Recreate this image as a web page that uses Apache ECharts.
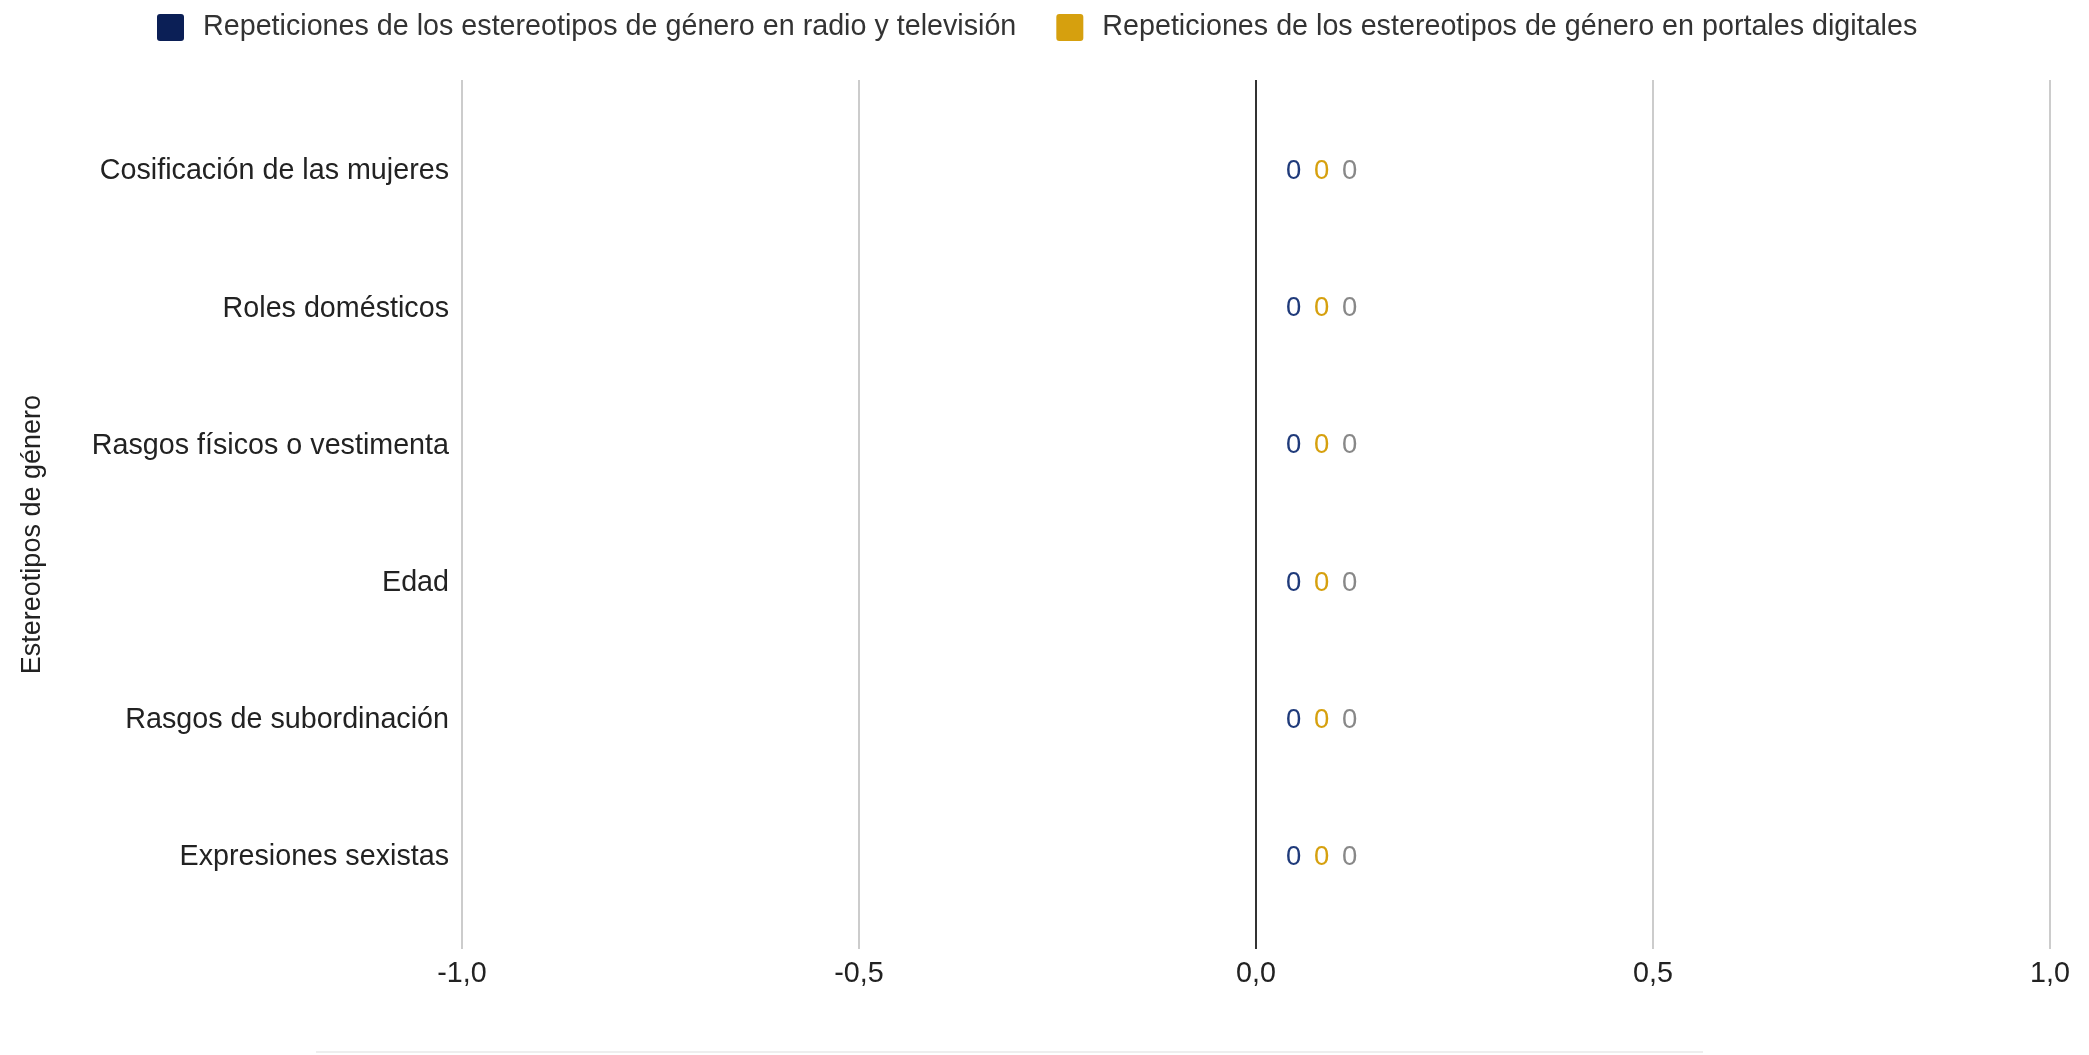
<!DOCTYPE html>
<html>
<head>
<meta charset="utf-8">
<script src="https://cdn.jsdelivr.net/npm/echarts@6/dist/echarts.min.js"></script>
<style>html,body{margin:0;padding:0;background:#fff;}#c{width:2089px;height:1055px;}</style>
</head>
<body>
<div id="c"></div>
<script>
var categories = ["Cosificación de las mujeres","Roles domésticos","Rasgos físicos o vestimenta","Edad","Rasgos de subordinación","Expresiones sexistas"];
var radioTv = [0,0,0,0,0,0];
var portales = [0,0,0,0,0,0];
var total = [0,0,0,0,0,0];
var seriesNames = ["Repeticiones de los estereotipos de género en radio y televisión","Repeticiones de los estereotipos de género en portales digitales","Total"];
var axisTitle = "Estereotipos de género";
var xMin = -1, xMax = 1, xStep = 0.5;

var FONT = "'Liberation Sans', Arial, sans-serif";
var FS = 28.7;
var chart = echarts.init(document.getElementById('c'));
function lab(color, dx){
  return {show:true, position:'right', distance:30, offset:[dx,0], formatter:'{c}', color:color, fontSize:27.5, fontFamily:FONT};
}
chart.setOption({
  backgroundColor:'#fff',
  animation:false,
  textStyle:{fontFamily:FONT},
  legend:{
    data:[seriesNames[0], seriesNames[1]],
    left:152, top:8, itemWidth:27, itemHeight:27, itemGap:40,
    icon:'path://M3,0H24Q27,0 27,3V24Q27,27 24,27H3Q0,27 0,24V3Q0,0 3,0Z',
    textStyle:{fontSize:FS, color:'#333', fontFamily:FONT, padding:[0,0,0,14]}
  },
  grid:[
    {left:462, right:39, top:103, bottom:129},
    {left:462, right:39, top:80, bottom:106}
  ],
  xAxis:[
    {gridIndex:0, type:'value', min:xMin, max:xMax, interval:xStep, show:false},
    {gridIndex:1, type:'value', min:xMin, max:xMax, interval:xStep,
     axisLine:{show:false}, axisTick:{show:false},
     axisLabel:{fontSize:FS, color:'#222', margin:11, fontFamily:FONT,
       formatter:function(v){return v.toFixed(1).replace('.',',');}},
     splitLine:{show:true, lineStyle:{color:['#cccccc','#cccccc','#333333','#cccccc','#cccccc'], width:2}}}
  ],
  yAxis:[
    {gridIndex:0, type:'category', data:categories, inverse:true,
     axisLine:{show:false}, axisTick:{show:false},
     axisLabel:{fontSize:FS, color:'#222', margin:13, fontFamily:FONT}},
    {gridIndex:1, type:'category', data:[''], show:false}
  ],
  graphic:[
    {type:'text', left:19, top:395, rotation:Math.PI/2,
     style:{text:axisTitle, fontSize:27, fill:'#222', fontFamily:FONT}},
    {type:'rect', shape:{x:316, y:1051, width:1387, height:2}, style:{fill:'#eeeeee'}}
  ],
  series:[
    {name:seriesNames[0], type:'bar', data:radioTv, barGap:'-100%', itemStyle:{color:'#0b1f56'}, label:lab('#1f3a7a',0)},
    {name:seriesNames[1], type:'bar', data:portales, barGap:'-100%', itemStyle:{color:'#d6a00e'}, label:lab('#d6a00e',28)},
    {name:seriesNames[2], type:'bar', data:total, barGap:'-100%', itemStyle:{color:'#888888'}, label:lab('#888888',56)}
  ]
});
</script>
</body>
</html>
